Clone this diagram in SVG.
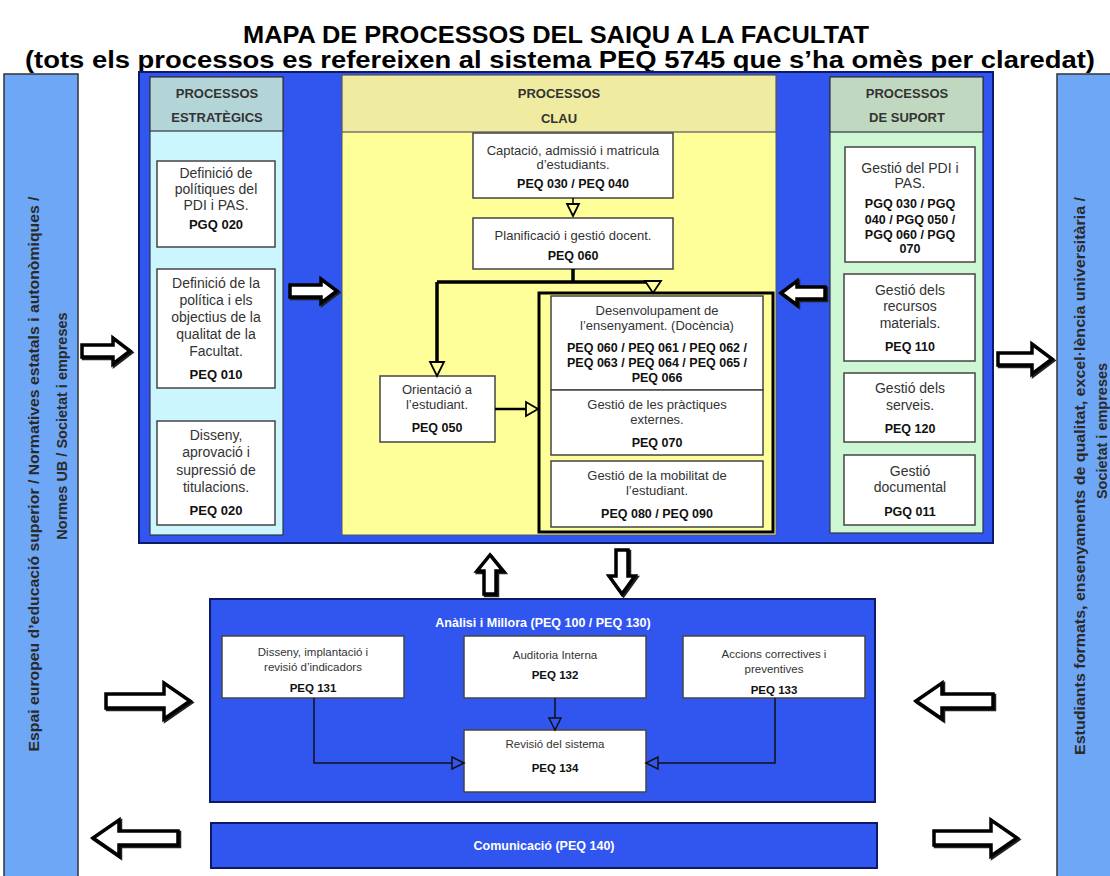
<svg xmlns="http://www.w3.org/2000/svg" width="1110" height="876" viewBox="0 0 1110 876">
<style>
text{font-family:"Liberation Sans",Arial,Helvetica,sans-serif;text-anchor:middle}
.t{font-size:23.5px;font-weight:bold;fill:#000}
.side{font-size:14.5px;font-weight:bold;fill:#2a2a2a}
.hd{font-size:13px;font-weight:bold;fill:#333}
.r{font-size:14px;fill:#333}
.b{font-size:13px;font-weight:bold;fill:#111}
.rc{font-size:13px;fill:#333}
.bc{font-size:12.5px;font-weight:bold;fill:#111}
.ra{font-size:11.5px;fill:#333}
.ba{font-size:11.5px;font-weight:bold;fill:#111}
.wt{font-size:12.5px;font-weight:bold;fill:#fff}
.box{fill:#fff;stroke:#444;stroke-width:1.5}
.blue{fill:#3155ef;stroke:#0d1a66;stroke-width:2}
.fat{fill:#fff;stroke:#000;stroke-width:3.5;stroke-linejoin:miter}
.shadow{fill:#222;stroke:#222;stroke-width:3.5;stroke-linejoin:miter}
.thick{fill:none;stroke:#000;stroke-width:3.5}
.thin{fill:none;stroke:#000;stroke-width:1.5}
.tri{fill:none;stroke:#000;stroke-width:1.8}
.an{fill:none;stroke:#111;stroke-width:1.5}
</style>
<defs>
<polygon id="ar-r1" points="82,345 113,345 113,338 130,351 113,364 113,357 82,357"/>
<polygon id="ar-r2" points="290,285 321,285 321,279 337,291 321,303 321,297 290,297"/>
<polygon id="ar-l3" points="781,293 797,281 797,287 825,287 825,299 797,299 797,305"/>
<polygon id="ar-r4" points="998,353 1032,353 1032,344 1052,359 1032,374 1032,365 998,365"/>
<polygon id="ar-r5" points="106,694 164,694 164,683 190,701 164,719 164,708 106,708"/>
<polygon id="ar-l6" points="916,701 942,683 942,694 993,694 993,708 942,708 942,719"/>
<polygon id="ar-l7" points="93,838 119,820 119,831 178,831 178,845 119,845 119,856"/>
<polygon id="ar-r8" points="934,831 991,831 991,820 1017,838 991,856 991,845 934,845"/>
<polygon id="ar-u9" points="490,555 503,571 496,571 496,594 484,594 484,571 477,571"/>
<polygon id="ar-d10" points="616,550 628,550 628,576 635,576 622,594 609,576 616,576"/>
</defs>

<!-- Title -->
<g id="title">
<text class="t" x="556" y="43" textLength="626" lengthAdjust="spacingAndGlyphs">MAPA DE PROCESSOS DEL SAIQU A LA FACULTAT</text>
<text class="t" x="560" y="68" textLength="1070" lengthAdjust="spacingAndGlyphs">(tots els processos es refereixen al sistema PEQ 5745 que s’ha omès per claredat)</text>
</g>

<!-- Sidebars -->
<g id="left-sidebar">
<rect x="4" y="74" width="74" height="810" fill="#6ea7f5" stroke="#333" stroke-width="1.5"/>
<text class="side" transform="translate(39,474) rotate(-90)" textLength="555" lengthAdjust="spacingAndGlyphs">Espai europeu d’educació superior / Normatives estatals i autonòmiques /</text>
<text class="side" transform="translate(67,426) rotate(-90)">Normes UB / Societat i empreses</text>
</g>
<g id="right-sidebar">
<rect x="1057" y="74" width="60" height="810" fill="#6ea7f5" stroke="#333" stroke-width="1.5"/>
<text class="side" transform="translate(1085,476) rotate(-90)" textLength="558" lengthAdjust="spacingAndGlyphs">Estudiants formats, ensenyaments de qualitat, excel·lència universitària /</text>
<text class="side" transform="translate(1107,431) rotate(-90)">Societat i empreses</text>
</g>

<!-- Main container -->
<g id="main-container">
<rect class="blue" x="139" y="72" width="854" height="471"/>
</g>

<!-- Strategic column -->
<g id="strategic">
<rect x="150" y="77" width="133" height="458" fill="#ccf6fe" stroke="#334" stroke-width="1.2"/>
<rect x="150" y="77" width="133" height="54" fill="#b4d5d8" stroke="#334" stroke-width="1.2"/>
<text class="hd" x="217" y="98">PROCESSOS</text>
<text class="hd" x="217" y="122">ESTRATÈGICS</text>
</g>
<g id="n-def-pdi">
<rect class="box" x="157" y="161" width="118" height="86"/>
<text class="r" x="216" y="178">Definició de</text>
<text class="r" x="216" y="194">polítiques del</text>
<text class="r" x="216" y="210">PDI i PAS.</text>
<text class="b" x="216" y="229">PGQ 020</text>
</g>
<g id="n-def-qual">
<rect class="box" x="157" y="269" width="118" height="119"/>
<text class="r" x="216" y="288">Definició de la</text>
<text class="r" x="216" y="305">política i els</text>
<text class="r" x="216" y="322">objectius de la</text>
<text class="r" x="216" y="339">qualitat de la</text>
<text class="r" x="216" y="356">Facultat.</text>
<text class="b" x="216" y="379">PEQ 010</text>
</g>
<g id="n-disseny-tit">
<rect class="box" x="157" y="421" width="118" height="104"/>
<text class="r" x="216" y="440">Disseny,</text>
<text class="r" x="216" y="457">aprovació i</text>
<text class="r" x="216" y="475">supressió de</text>
<text class="r" x="216" y="492">titulacions.</text>
<text class="b" x="216" y="515">PEQ 020</text>
</g>

<!-- Key column -->
<g id="key">
<rect x="342" y="75" width="434" height="460" fill="#ffff99" stroke="#556" stroke-width="1"/>
<rect x="342" y="75" width="434" height="57" fill="#efeca2" stroke="#556" stroke-width="1.2"/>
<text class="hd" x="559" y="98">PROCESSOS</text>
<text class="hd" x="559" y="123">CLAU</text>
</g>
<g id="n-captacio">
<rect class="box" x="473" y="133" width="200" height="65"/>
<text class="rc" x="573" y="155">Captació, admissió i matricula</text>
<text class="rc" x="573" y="169">d’estudiants.</text>
<text class="bc" x="573" y="188">PEQ 030 / PEQ 040</text>
</g>
<g id="n-planif">
<rect class="box" x="473" y="218" width="200" height="51"/>
<text class="rc" x="573" y="240">Planificació i gestió docent.</text>
<text class="bc" x="573" y="260">PEQ 060</text>
</g>
<g id="n-orientacio">
<rect class="box" x="380" y="376" width="115" height="66"/>
<text class="rc" x="437" y="394">Orientació a</text>
<text class="rc" x="437" y="409">l’estudiant.</text>
<text class="bc" x="437" y="432">PEQ 050</text>
</g>
<g id="n-group-docencia">
<rect x="539" y="293" width="234" height="239" fill="#ffff99" stroke="#000" stroke-width="3"/>
</g>
<g id="n-desenvolupament">
<rect class="box" x="551" y="296" width="212" height="94"/>
<text class="rc" x="657" y="315">Desenvolupament de</text>
<text class="rc" x="657" y="330">l’ensenyament. (Docència)</text>
<text class="bc" x="657" y="352">PEQ 060 / PEQ 061 / PEQ 062 /</text>
<text class="bc" x="657" y="367">PEQ 063 / PEQ 064 / PEQ 065 /</text>
<text class="bc" x="657" y="382">PEQ 066</text>
</g>
<g id="n-practiques">
<rect class="box" x="551" y="390" width="212" height="65"/>
<text class="rc" x="657" y="409">Gestió de les pràctiques</text>
<text class="rc" x="657" y="424">externes.</text>
<text class="bc" x="657" y="447">PEQ 070</text>
</g>
<g id="n-mobilitat">
<rect class="box" x="551" y="461" width="212" height="66"/>
<text class="rc" x="657" y="480">Gestió de la mobilitat de</text>
<text class="rc" x="657" y="495">l’estudiant.</text>
<text class="bc" x="657" y="518">PEQ 080 / PEQ 090</text>
</g>

<!-- Support column -->
<g id="support">
<rect x="830" y="77" width="153" height="456" fill="#cdf7d2" stroke="#334" stroke-width="1.2"/>
<rect x="830" y="77" width="153" height="55" fill="#c0d8c0" stroke="#334" stroke-width="1.2"/>
<text class="hd" x="907" y="98">PROCESSOS</text>
<text class="hd" x="907" y="122">DE SUPORT</text>
</g>
<g id="n-gestio-pdi">
<rect class="box" x="845" y="147" width="130" height="115"/>
<text class="r" x="910" y="173">Gestió del PDI i</text>
<text class="r" x="910" y="188">PAS.</text>
<text class="bc" x="910" y="208">PGQ 030 / PGQ</text>
<text class="bc" x="910" y="224">040 / PGQ 050 /</text>
<text class="bc" x="910" y="239">PGQ 060 / PGQ</text>
<text class="bc" x="910" y="253">070</text>
</g>
<g id="n-recursos">
<rect class="box" x="844" y="274" width="131" height="87"/>
<text class="r" x="910" y="295">Gestió dels</text>
<text class="r" x="910" y="311">recursos</text>
<text class="r" x="910" y="328">materials.</text>
<text class="bc" x="910" y="351">PEQ 110</text>
</g>
<g id="n-serveis">
<rect class="box" x="844" y="373" width="131" height="69"/>
<text class="r" x="910" y="393">Gestió dels</text>
<text class="r" x="910" y="410">serveis.</text>
<text class="bc" x="910" y="433">PEQ 120</text>
</g>
<g id="n-documental">
<rect class="box" x="844" y="455" width="131" height="70"/>
<text class="r" x="910" y="476">Gestió</text>
<text class="r" x="910" y="492">documental</text>
<text class="bc" x="910" y="516">PGQ 011</text>
</g>

<!-- Analysis -->
<g id="analisi">
<rect class="blue" x="210" y="599" width="665" height="203"/>
<text class="wt" x="543" y="627">Anàlisi i Millora (PEQ 100 / PEQ 130)</text>
</g>
<g id="n-indicadors">
<rect class="box" x="222" y="636" width="182" height="62"/>
<text class="ra" x="313" y="656">Disseny, implantació i</text>
<text class="ra" x="313" y="671">revisió d’indicadors</text>
<text class="ba" x="313" y="692">PEQ 131</text>
</g>
<g id="n-auditoria">
<rect class="box" x="464" y="636" width="182" height="62"/>
<text class="ra" x="555" y="659">Auditoria Interna</text>
<text class="ba" x="555" y="679">PEQ 132</text>
</g>
<g id="n-accions">
<rect class="box" x="683" y="636" width="182" height="62"/>
<text class="ra" x="774" y="658">Accions correctives i</text>
<text class="ra" x="774" y="673">preventives</text>
<text class="ba" x="774" y="694">PEQ 133</text>
</g>
<g id="n-revisio">
<rect class="box" x="464" y="730" width="182" height="62"/>
<text class="ra" x="555" y="748">Revisió del sistema</text>
<text class="ba" x="555" y="772">PEQ 134</text>
</g>

<!-- Communication -->
<g id="n-comunicacio">
<rect class="blue" x="211" y="823" width="666" height="45"/>
<text class="wt" x="544" y="850">Comunicació (PEQ 140)</text>
</g>

<!-- Connectors -->
<g id="connectors">
<path class="thin" d="M573,198 V204"/>
<polygon class="tri" points="567,204 579,204 573,216"/>
<path class="thick" d="M573,269 V282 M437,282 H647 M437,282 V362"/>
<polygon class="tri" points="430,362 444,362 437,376"/>
<polygon class="tri" points="645,281 661,281 653,293"/>
<path class="thin" d="M495,409 H526" style="stroke-width:2.5"/>
<polygon class="tri" points="526,402 526,416 538,409"/>
<path class="an" d="M314,698 V763 H452"/>
<polygon class="an" points="452,757 452,769 464,763"/>
<path class="an" d="M555,698 V718"/>
<polygon class="an" points="549,718 561,718 555,730"/>
<path class="an" d="M775,698 V763 H658"/>
<polygon class="an" points="658,757 658,769 646,763"/>
<!-- fat arrows: shadow then outline -->
<g transform="translate(1.5,1.5)">
<use href="#ar-r1" class="shadow"/><use href="#ar-r2" class="shadow"/><use href="#ar-l3" class="shadow"/>
<use href="#ar-r4" class="shadow"/><use href="#ar-r5" class="shadow"/><use href="#ar-l6" class="shadow"/>
<use href="#ar-l7" class="shadow"/><use href="#ar-r8" class="shadow"/><use href="#ar-u9" class="shadow"/>
<use href="#ar-d10" class="shadow"/>
</g>
<use href="#ar-r1" class="fat"/><use href="#ar-r2" class="fat"/><use href="#ar-l3" class="fat"/>
<use href="#ar-r4" class="fat"/><use href="#ar-r5" class="fat"/><use href="#ar-l6" class="fat"/>
<use href="#ar-l7" class="fat"/><use href="#ar-r8" class="fat"/><use href="#ar-u9" class="fat"/>
<use href="#ar-d10" class="fat"/>
</g>
</svg>
